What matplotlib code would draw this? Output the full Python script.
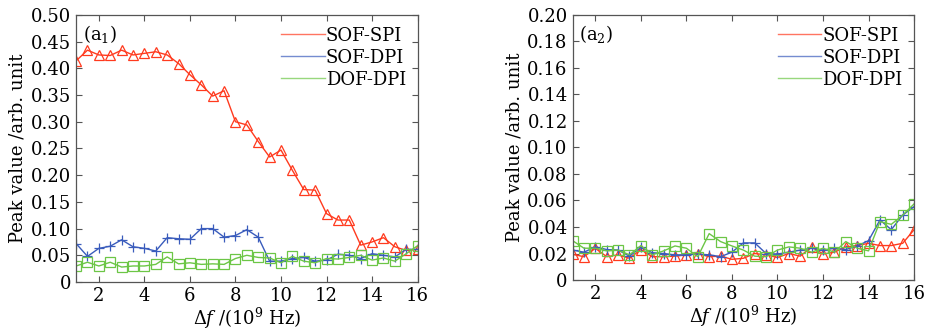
import numpy as np
import matplotlib
matplotlib.use('Agg')
import matplotlib.pyplot as plt
from matplotlib.ticker import FuncFormatter

plt.rcParams['font.family'] = ['DejaVu Serif']
plt.rcParams['mathtext.fontset'] = 'dejavuserif'

# frequency offset (10^9 Hz)
df = [1 + 0.5 * i for i in range(31)]

# (a1) peak values
a1_sof_spi = [0.414, 0.434, 0.425, 0.424, 0.434, 0.425, 0.428, 0.431, 0.425, 0.409,
              0.388, 0.369, 0.348, 0.358, 0.300, 0.294, 0.263, 0.234, 0.247, 0.209,
              0.173, 0.172, 0.128, 0.116, 0.116, 0.069, 0.075, 0.083, 0.066, 0.059, 0.061]
a1_sof_dpi = [0.072, 0.048, 0.063, 0.067, 0.079, 0.066, 0.063, 0.058, 0.083, 0.081,
              0.080, 0.100, 0.100, 0.084, 0.087, 0.098, 0.084, 0.039, 0.039, 0.044,
              0.046, 0.039, 0.041, 0.052, 0.050, 0.044, 0.053, 0.050, 0.047, 0.061, 0.061]
a1_dof_dpi = [0.030, 0.037, 0.030, 0.037, 0.028, 0.030, 0.030, 0.033, 0.047, 0.034,
              0.036, 0.033, 0.034, 0.033, 0.044, 0.050, 0.046, 0.045, 0.036, 0.048,
              0.039, 0.036, 0.044, 0.043, 0.046, 0.050, 0.041, 0.045, 0.039, 0.053, 0.068]

# (a2) peak values
a2_sof_spi = [0.0194, 0.0176, 0.0239, 0.0176, 0.019, 0.0164, 0.023, 0.0176, 0.0176, 0.018,
              0.019, 0.020, 0.0176, 0.018, 0.0156, 0.0164, 0.020, 0.019, 0.017, 0.020,
              0.018, 0.025, 0.0196, 0.021, 0.025, 0.026, 0.0277, 0.026, 0.026, 0.0277, 0.038]
a2_sof_dpi = [0.0226, 0.021, 0.025, 0.023, 0.0226, 0.018, 0.0246, 0.0206, 0.020, 0.019,
              0.019, 0.0196, 0.019, 0.0176, 0.021, 0.028, 0.028, 0.020, 0.0196, 0.021,
              0.0226, 0.024, 0.0226, 0.024, 0.023, 0.0257, 0.0297, 0.0453, 0.038, 0.049, 0.0553]
a2_dof_dpi = [0.0297, 0.024, 0.024, 0.022, 0.0226, 0.019, 0.026, 0.019, 0.022, 0.0257,
              0.024, 0.0176, 0.035, 0.029, 0.0257, 0.0226, 0.018, 0.0176, 0.0226, 0.025,
              0.024, 0.021, 0.024, 0.021, 0.029, 0.024, 0.022, 0.044, 0.042, 0.049, 0.0574]

series_names = ['SOF-SPI', 'SOF-DPI', 'DOF-DPI']
colors = ['#ff3a1e', '#3a5cbc', '#6cc646']
markers = ['^', '+', 's']


def fmt(v, pos):
    if abs(v) < 1e-9:
        return '0'
    return '%.2f' % v


fig = plt.figure(figsize=(9.28, 3.31), dpi=100)
ax1 = fig.add_axes([0.082, 0.148, 0.368, 0.807])
ax2 = fig.add_axes([0.617, 0.154, 0.368, 0.801])

panels = [
    (ax1, [a1_sof_spi, a1_sof_dpi, a1_dof_dpi], 0.5, 0.05, r'(a$_1$)'),
    (ax2, [a2_sof_spi, a2_sof_dpi, a2_dof_dpi], 0.2, 0.02, r'(a$_2$)'),
]

for ax, data, ymax, step, tag in panels:
    for vals, name, c, m in zip(data, series_names, colors, markers):
        ax.plot(df, vals, color=c, lw=1.0, marker=m, ms=6.5, mfc='none',
                mec=c, mew=0.9, label=name)
    ax.set_xlim(1, 16)
    ax.set_ylim(0, ymax)
    ax.set_xticks(range(2, 17, 2))
    ax.set_yticks(np.arange(0, ymax + step / 2, step))
    ax.yaxis.set_major_formatter(FuncFormatter(fmt))
    ax.tick_params(direction='in', top=True, right=True, labelsize=13, length=4,
                   color='#555555')
    for s in ax.spines.values():
        s.set_color('#555555')
        s.set_linewidth(0.9)
    ax.set_xlabel(r'$\Delta f$ /(10$^9$ Hz)', fontsize=13, labelpad=1)
    ax.set_ylabel('Peak value /arb. unit', fontsize=13, labelpad=3)
    ax.text(0.02, 0.97, tag, transform=ax.transAxes, fontsize=13, va='top', ha='left')
    leg = ax.legend(loc='upper right', frameon=False, fontsize=13, handlelength=2.4,
                    handletextpad=0.05, labelspacing=0.22, borderaxespad=0.25)
    for h in leg.legend_handles:
        h.set_marker('')
        h.set_alpha(0.7)

fig.savefig('out.png', dpi=100)
